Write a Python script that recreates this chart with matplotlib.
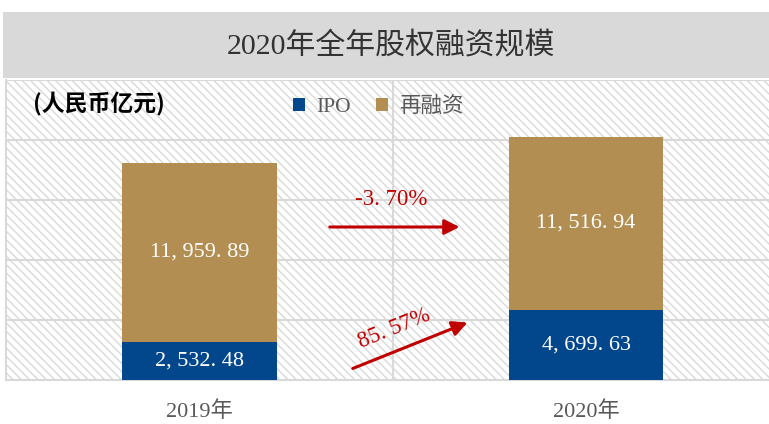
import numpy as np
import matplotlib.pyplot as plt
from matplotlib.patches import Rectangle

# Data
years = ["2019年", "2020年"]
ipo = np.array([2532.48, 4699.63])
refinance = np.array([11959.89, 11516.94])
series_names = ["IPO", "再融资"]
growth_refinance = "-3.70%"
growth_ipo = "85.57%"
unit_label = "(人民币亿元)"
title = "2020年全年股权融资规模"

# Styling
plt.rcParams['font.family'] = ['Liberation Serif', 'Noto Sans CJK SC', 'DejaVu Sans']
plt.rcParams['hatch.linewidth'] = 1.0
plt.rcParams['hatch.color'] = '#D9D9D9'

blue = "#02468B"
tan = "#B38E52"
red = "#C00000"
grid_c = "#D9D9D9"

fig = plt.figure(figsize=(7.69, 4.24), dpi=100)

# Title band
fig.patches.append(Rectangle((3 / 769, 1 - 78 / 424), 1, 66 / 424,
                             transform=fig.transFigure, facecolor="#D9D9D9",
                             edgecolor="none", zorder=0))
fig.text(0.508, 1 - 46 / 424, title, ha="center", va="center", fontsize=21.5,
         color="#333333", family=['Liberation Serif', 'Noto Sans CJK SC'])

ax = fig.add_axes([6 / 769, 1 - 380 / 424, 1 - 6 / 769, 300 / 424])
x = np.arange(len(years))
ax.set_xlim(-0.5, (769 - 199) / 387)
ax.set_ylim(0, 20000)

# Hatched background
ax.add_patch(Rectangle((0, 0), 1, 1, transform=ax.transAxes, facecolor="white",
                       edgecolor="#D9D9D9", hatch="\\\\\\\\", linewidth=0, zorder=0))

ax.set_yticks(np.arange(0, 20001, 4000))
ax.set_xticks([0.5], minor=True)
ax.grid(axis="y", color=grid_c, linewidth=1.5, zorder=1)
ax.grid(axis="x", which="minor", color=grid_c, linewidth=1.5, zorder=1)
ax.tick_params(axis="both", which="both", length=0, labelleft=False)
for s in ["top", "right"]:
    ax.spines[s].set_visible(False)
for s in ["left", "bottom"]:
    ax.spines[s].set_color(grid_c)
    ax.spines[s].set_linewidth(1.5)

w = 0.40
b1 = ax.bar(x, ipo, width=w, color=blue, label=series_names[0], zorder=3)
b2 = ax.bar(x, refinance, width=w, bottom=ipo, color=tan, label=series_names[1], zorder=3)

def fmt(v):
    return f"{v:,.2f}".replace(",", ", ").replace(".", ". ")

for i in range(len(years)):
    ax.text(x[i], ipo[i] / 2, fmt(ipo[i]), ha="center", va="center",
            color="white", fontsize=16, zorder=4)
    ax.text(x[i], ipo[i] + refinance[i] / 2, fmt(refinance[i]), ha="center",
            va="center", color="white", fontsize=16, zorder=4)

ax.set_xticks(x)
ax.set_xticklabels(years, fontsize=16, color="#595959")
ax.tick_params(axis="x", pad=15)

# Growth arrows
ax.annotate("", xy=(0.68, 10200), xytext=(0.33, 10200),
            arrowprops=dict(arrowstyle="-|>,head_length=0.9,head_width=0.45",
                            color=red, lw=2.2), zorder=5)
ax.text(0.495, 12050, growth_refinance.replace(".", ". "), ha="center", va="center",
        color=red, fontsize=16.5, zorder=5)
ax.annotate("", xy=(0.70, 3900), xytext=(0.39, 700),
            arrowprops=dict(arrowstyle="-|>,head_length=0.9,head_width=0.45",
                            color=red, lw=2.2), zorder=5)
ax.text(0.505, 3400, growth_ipo.replace(".", ". "), ha="center", va="center",
        color=red, fontsize=16.5, rotation=22, zorder=5)

# Unit label and legend
fig.text(33 / 769, 1 - 104 / 424, unit_label, ha="left", va="center",
         fontsize=16.5, fontweight="bold", color="black",
         family=['Noto Sans CJK SC', 'DejaVu Sans'])
leg = ax.legend(handles=[b1, b2], loc="center left", ncol=2, frameon=False,
                bbox_to_anchor=(274 / 769, 1 - 107 / 424), bbox_transform=fig.transFigure,
                handlelength=0.55, handleheight=0.55, handletextpad=0.5,
                columnspacing=1.2, fontsize=15.5)
for t in leg.get_texts():
    t.set_color("#595959")

fig.savefig("out.png", dpi=100)
